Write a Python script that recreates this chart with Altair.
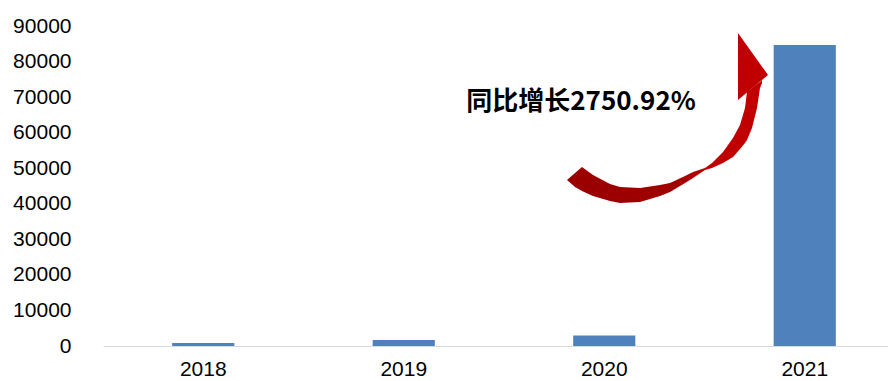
import altair as alt
import pandas as pd

# Data
years = ["2018", "2019", "2020", "2021"]
values = [850, 1690, 2969, 84650]
y_ticks = [0, 10000, 20000, 30000, 40000, 50000, 60000, 70000, 80000, 90000]
note = "同比增长2750.92%"

# Annotation arrow geometry (page-pixel coordinates)
shaft_x = [567, 575, 582, 593, 610, 620, 640, 660, 670, 685, 693, 705, 712, 723, 733, 740, 745, 747, 752, 757, 760, 762]
shaft_top = [180, 173, 167, 175, 184, 187, 188, 185, 183, 176, 172, 168, 163, 152, 138, 125, 108, 92, 88, 84, 82, 80]
shaft_bot = [180, 187, 191, 196, 201, 203, 202, 196, 192, 183, 178, 170, 168, 163, 157, 149, 143, 140, 128, 108, 88, 83]
head_x = [738, 768]
head_top = [33, 75]
head_bot = [100, 75]

bars = pd.DataFrame({"year": years, "value": values})
shaft = pd.DataFrame({"px": shaft_x, "top": shaft_top, "bot": shaft_bot})
head = pd.DataFrame({"px": head_x, "top": head_top, "bot": head_bot})

W, H = 785, 320
LEFT, TOP = 103, 26

bar_layer = alt.Chart(bars).mark_bar(color="#4F81BD").encode(
    x=alt.X("year:N", title=None, sort=years,
            scale=alt.Scale(range=[0, 802], paddingInner=0.69, paddingOuter=0.345),
            axis=alt.Axis(labelAngle=0, labelFontSize=21, labelFont="Liberation Sans",
                          labelColor="#000000", ticks=False, domainColor="#D9D9D9",
                          domainWidth=1.2, labelPadding=12)),
    y=alt.Y("value:Q", title=None,
            scale=alt.Scale(domain=[0, 90000], nice=False),
            axis=alt.Axis(values=y_ticks, format="d", grid=False, domain=False,
                          ticks=False, labelFontSize=21, labelFont="Liberation Sans",
                          labelColor="#000000", labelPadding=32)),
)

xs = alt.Scale(domain=[LEFT, LEFT + W], range=[0, W], zero=False, nice=False)
ys = alt.Scale(domain=[TOP, TOP + H], range=[0, H], zero=False, nice=False)

grad = alt.LinearGradient(
    gradient="linear", x1=0, y1=0, x2=1, y2=0,
    stops=[
        alt.GradientStop(color="#990000", offset=0),
        alt.GradientStop(color="#A00000", offset=0.55),
        alt.GradientStop(color="#C00000", offset=0.75),
        alt.GradientStop(color="#C00000", offset=1),
    ],
)

shaft_layer = alt.Chart(shaft).mark_area(color=grad).encode(
    x=alt.X("px:Q", scale=xs, axis=None),
    y=alt.Y("top:Q", scale=ys, axis=None),
    y2="bot:Q",
)

head_layer = alt.Chart(head).mark_area(color="#C00000").encode(
    x=alt.X("px:Q", scale=xs, axis=None),
    y=alt.Y("top:Q", scale=ys, axis=None),
    y2="bot:Q",
)

text_layer = alt.Chart(pd.DataFrame({"t": [note]})).mark_text(
    font="Noto Sans CJK SC", fontSize=26, fontWeight="bold", color="#000000",
    align="center", baseline="middle",
).encode(x=alt.value(581 - LEFT), y=alt.value(102 - TOP), text="t:N")

ann = alt.layer(shaft_layer, head_layer, text_layer)

chart = alt.layer(bar_layer, ann).resolve_scale(
    x="independent", y="independent"
).properties(
    width=W, height=H,
    autosize=alt.AutoSizeParams(type="none"),
    padding={"left": 95, "top": 18, "right": 0, "bottom": 34},
).configure_view(stroke=None)

chart.save("out.html", embed_options={"renderer": "svg", "actions": False})
